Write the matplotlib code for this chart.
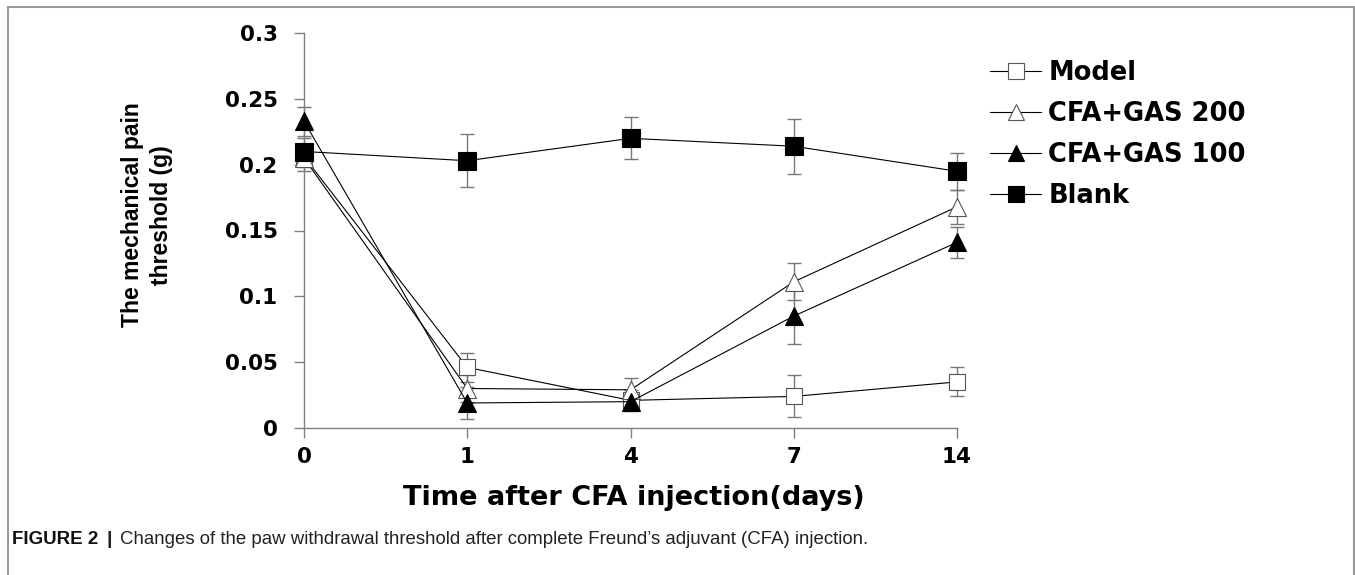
import matplotlib
matplotlib.use("Agg")
import matplotlib.pyplot as plt
from matplotlib.lines import Line2D
from matplotlib.patches import Rectangle

# data
days = ["0", "1", "4", "7", "14"]
model = [0.206, 0.046, 0.021, 0.024, 0.035]
model_err = [0.008, 0.011, 0.008, 0.016, 0.011]
gas200 = [0.205, 0.030, 0.029, 0.111, 0.168]
gas200_err = [0.010, 0.010, 0.009, 0.014, 0.013]
gas100 = [0.233, 0.019, 0.020, 0.085, 0.141]
gas100_err = [0.011, 0.012, 0.006, 0.021, 0.012]
blank = [0.210, 0.203, 0.220, 0.214, 0.195]
blank_err = [0.010, 0.020, 0.016, 0.021, 0.014]

fig = plt.figure(figsize=(13.55, 5.75), dpi=100)
ax = fig.add_axes([304 / 1355, 1 - 428 / 575, 653 / 1355, 395 / 575])

x = list(range(len(days)))
series = [
    ("Model", model, model_err, "s", "white", 12),
    ("CFA+GAS 200", gas200, gas200_err, "^", "white", 13),
    ("CFA+GAS 100", gas100, gas100_err, "^", "black", 13),
    ("Blank", blank, blank_err, "s", "black", 13),
]

for name, vals, err, mk, fc, ms in series:
    ax.errorbar(x, vals, yerr=err, fmt="none", ecolor="#777777", elinewidth=1,
                capsize=5, capthick=1, clip_on=False, zorder=2)
    ax.plot(x, vals, color="black", lw=0.8, marker=mk, markersize=ms,
            markerfacecolor=fc, markeredgecolor="#555555" if fc == "white" else "black",
            markeredgewidth=0.8, clip_on=False, zorder=3)

ax.set_xlim(0, 4)
ax.set_ylim(0, 0.3)
ax.set_xticks(x)
ax.set_xticklabels(days)
ax.set_yticks([0, 0.05, 0.1, 0.15, 0.2, 0.25, 0.3])
ax.set_yticklabels(["0", "0.05", "0.1", "0.15", "0.2", "0.25", "0.3"])

for s in ["top", "right"]:
    ax.spines[s].set_visible(False)
for s in ["left", "bottom"]:
    ax.spines[s].set_color("#808080")
    ax.spines[s].set_linewidth(1)
ax.tick_params(axis="both", colors="#808080", length=7, width=1, direction="out",
               labelcolor="black", labelsize=15.5)
ax.tick_params(axis="y", pad=12)
ax.tick_params(axis="x", pad=7)
for lab in ax.get_xticklabels() + ax.get_yticklabels():
    lab.set_fontweight("bold")
    lab.set_family("DejaVu Sans")

# axis titles
fig.text(147 / 1355, 1 - 215 / 575, "The mechanical pain\nthreshold (g)", rotation=90,
         ha="center", va="center", fontsize=16.5, fontweight="bold",
         family="Liberation Sans", linespacing=1.3)
fig.text(634 / 1355, 1 - 498 / 575, "Time after CFA injection(days)", ha="center",
         va="center", fontsize=19.5, fontweight="bold", family="DejaVu Sans")

# legend
handles = []
for name, vals, err, mk, fc, ms in series:
    handles.append(Line2D([], [], color="black", lw=0.8, marker=mk, markersize=ms - 1,
                          markerfacecolor=fc,
                          markeredgecolor="#555555" if fc == "white" else "black",
                          markeredgewidth=0.8))
fig.legend(handles, [s[0] for s in series], loc="upper left",
           bbox_to_anchor=(977 / 1355, 1 - 47 / 575), frameon=False,
           prop={"family": "DejaVu Sans", "weight": "bold", "size": 18.5},
           handlelength=2.0, handletextpad=0.27, labelspacing=0.58, borderpad=0)

# figure frame and caption
fig.patches.append(Rectangle((8 / 1355, -0.01), 1346 / 1355, 1 - 7 / 575 + 0.01,
                             transform=fig.transFigure, fill=False,
                             edgecolor="#9a9a9a", lw=1.5))

fig.canvas.draw()
r = fig.canvas.get_renderer()
t1 = fig.text(12 / 1355, 1 - 540 / 575, "FIGURE 2", fontsize=13.5, fontweight="bold",
              family="Liberation Sans", color="#111111", va="center")
bb = t1.get_window_extent(r)
t2 = fig.text((bb.x1 + 8) / 1355, 1 - 540 / 575, "|", fontsize=14, fontweight="bold",
              family="Liberation Sans", color="#222222", va="center")
bb = t2.get_window_extent(r)
fig.text((bb.x1 + 8) / 1355, 1 - 540 / 575,
         "Changes of the paw withdrawal threshold after complete Freund\u2019s adjuvant (CFA) injection.",
         fontsize=13.4, family="Liberation Sans", color="#222222", va="center")

fig.savefig("out.png", dpi=100)
